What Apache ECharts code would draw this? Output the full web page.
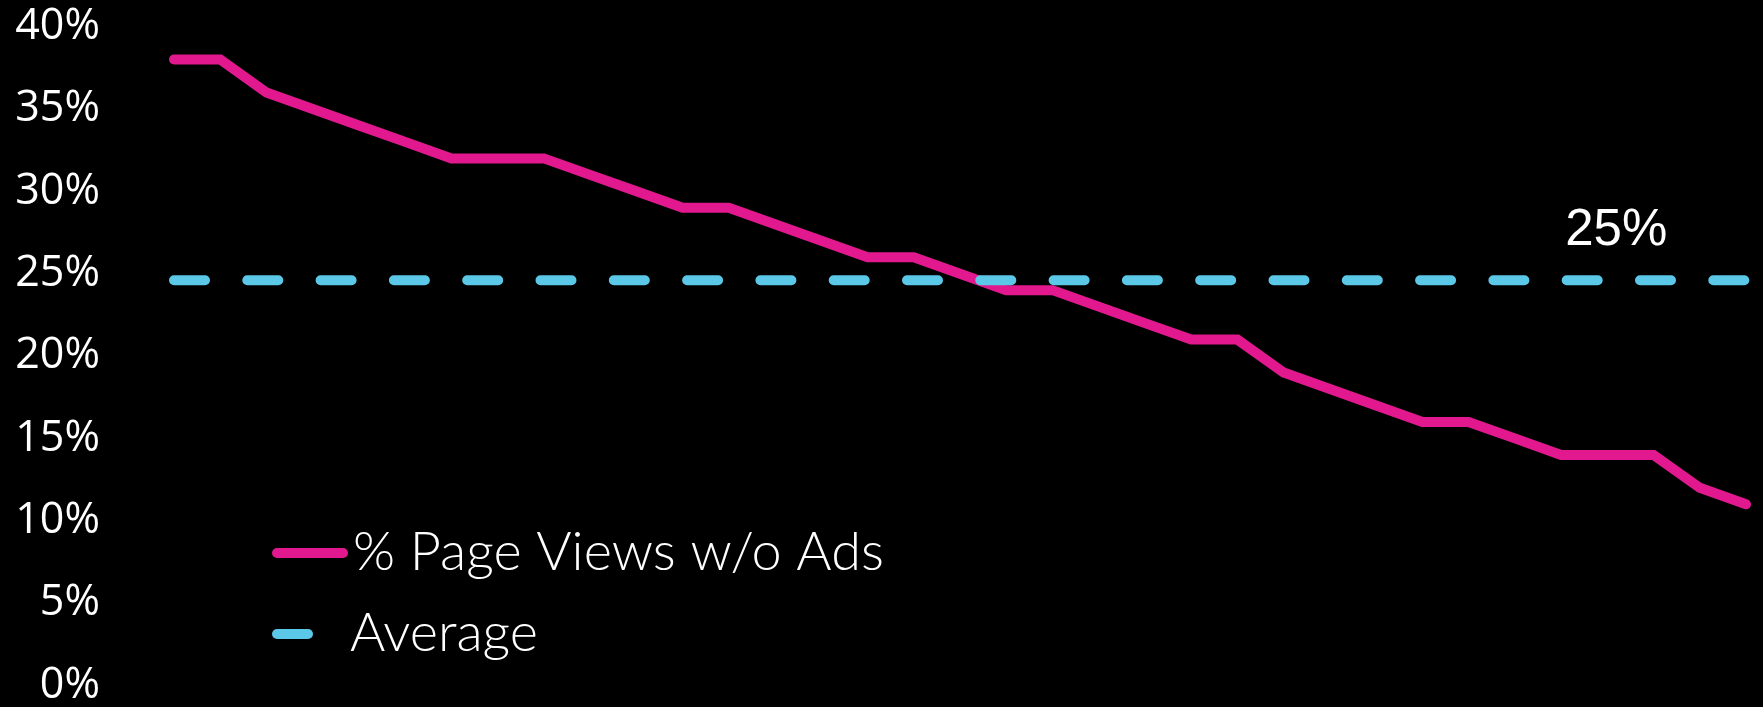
<!DOCTYPE html>
<html>
<head>
<meta charset="utf-8">
<script src="https://cdn.jsdelivr.net/npm/echarts@6/dist/echarts.min.js"></script>
<style>
  html, body { margin: 0; padding: 0; background: #000; }
  #chart { width: 1763px; height: 707px; }
</style>
</head>
<body>
<div id="chart"></div>
<script>
// Share of page views served without ads, one point per period
const periods = Array.from({ length: 35 }, (_, i) => 'P' + (i + 1));
const pageViewsNoAds = [
  38, 38, 36, 35, 34, 33, 32, 32, 32, 31, 30, 29, 29, 28, 27, 26, 26, 25,
  24, 24, 23, 22, 21, 21, 19, 18, 17, 16, 16, 15, 14, 14, 14, 12, 11
];
// Mean level across all periods, labelled once near the right end
const averageLevel = [24.6];
const averageLabelIndex = [31];
const yTicks = { min: 0, max: 40, step: 5 };

const PINK = '#E2198E';
const CYAN = '#5BC8E8';

const averageSeries = periods.map((_, i) => {
  const v = averageLevel[0];
  if (i === averageLabelIndex[0]) {
    return {
      value: v,
      label: {
        show: true,
        position: 'top',
        distance: 24,
        offset: [9, 0],
        formatter: p => Math.round(p.value) + '%',
        color: '#ffffff',
        fontFamily: 'Liberation Sans',
        fontSize: 51
      }
    };
  }
  return v;
});

// capsule-shaped legend keys (rounded line ends)
const capsule = w => `path://M5 0H${w - 5}A5 5 0 0 1 ${w - 5} 10H5A5 5 0 0 1 5 0Z`;

const legendText = { color: '#ffffff', fontFamily: 'Lato', fontWeight: 300, fontSize: 54 };

const chart = echarts.init(document.getElementById('chart'));
chart.setOption({
  backgroundColor: '#000000',
  animation: false,
  grid: { left: 174, right: 17, top: 26.6, bottom: 20.8 },
  xAxis: {
    type: 'category',
    data: periods,
    boundaryGap: false,
    show: false
  },
  yAxis: {
    type: 'value',
    min: yTicks.min,
    max: yTicks.max,
    interval: yTicks.step,
    axisLine: { show: false },
    axisTick: { show: false },
    splitLine: { show: false },
    axisLabel: {
      formatter: '{value}%',
      color: '#ffffff',
      fontFamily: 'Open Sans',
      fontSize: 43,
      margin: 74
    }
  },
  legend: [
    {
      data: [{ name: '% Page Views w/o Ads', icon: capsule(76) }],
      left: 267,
      top: 521,
      itemWidth: 76,
      itemHeight: 10,
      textStyle: legendText
    },
    {
      data: [{ name: 'Average', icon: capsule(41) }],
      left: 267,
      top: 602,
      itemWidth: 41,
      itemHeight: 10,
      textStyle: Object.assign({ padding: [0, 0, 0, 32] }, legendText)
    }
  ],
  series: [
    {
      name: '% Page Views w/o Ads',
      type: 'line',
      data: pageViewsNoAds,
      symbol: 'none',
      color: PINK,
      lineStyle: { width: 10, color: PINK, cap: 'round', join: 'miter' },
      z: 2
    },
    {
      name: 'Average',
      type: 'line',
      data: averageSeries,
      symbol: 'circle',
      symbolSize: 0,
      showSymbol: true,
      color: CYAN,
      lineStyle: { width: 10, color: CYAN, type: [31, 42.3], cap: 'round' },
      z: 3
    }
  ]
});
</script>
</body>
</html>
